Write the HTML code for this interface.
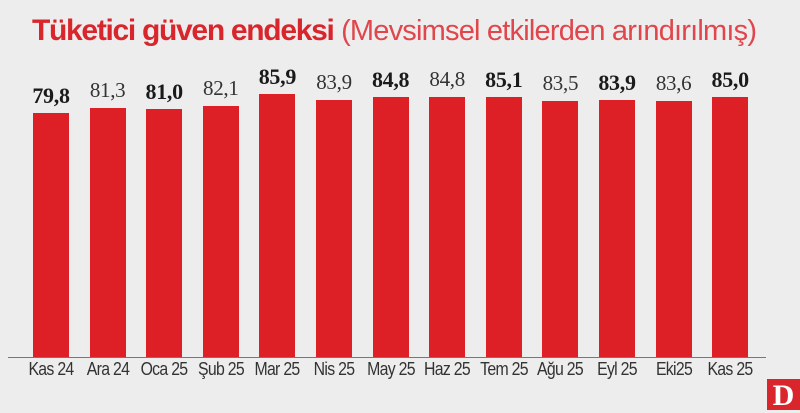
<!DOCTYPE html>
<html><head><meta charset="utf-8"><style>
body{margin:0;width:800px;height:413px;overflow:hidden;background:#ededed;font-family:"Liberation Sans",sans-serif;position:relative}
.t{position:absolute;left:32px;top:14px;font-size:30px;color:#d9262c;white-space:nowrap;letter-spacing:-0.8px}
.t b{font-weight:700;letter-spacing:-1.3px}
.t span{font-weight:300;color:#e0464b;font-size:29px}
.bar{position:absolute;width:36px;background:#dd1f26;bottom:56px}
.v{position:absolute;width:70px;text-align:center;font-family:"Liberation Serif",serif;font-size:21px;color:#333;letter-spacing:-0.3px}
.v.b{font-weight:700;color:#1a1a1a;font-size:22px}
.m{position:absolute;top:359px;width:70px;text-align:center;font-size:18px;color:#333;letter-spacing:-0.8px;transform:scaleX(0.88)}
.ax{position:absolute;left:8px;width:758px;top:357px;height:1px;background:#777}
.logo{position:absolute;left:767px;top:379px;width:33px;height:31px;background:#d9262c;color:#fff;font:900 30px "Liberation Serif",serif;text-align:center;line-height:33px}
</style></head><body>
<div class="t"><b>Tüketici güven endeksi</b> <span>(Mevsimsel etkilerden arındırılmış)</span></div>
<div id="c"></div>
<div class="ax"></div>
<div class="logo">D</div>
<script>
var d=[["Kas 24",79.8,1],["Ara 24",81.3,0],["Oca 25",81.0,1],["Şub 25",82.1,0],["Mar 25",85.9,1],["Nis 25",83.9,0],["May 25",84.8,1],["Haz 25",84.8,0],["Tem 25",85.1,1],["Ağu 25",83.5,0],["Eyl 25",83.9,1],["Eki25",83.6,0],["Kas 25",85.0,1]];
var h="";
d.forEach(function(e,i){var x=33+i*56.6;var top=113-(e[1]-79.8)*3.11;
h+='<div class="bar" style="left:'+x+'px;top:'+top+'px"></div>';
h+='<div class="v'+(e[2]?' b':'')+'" style="left:'+(x-17)+'px;top:'+(top-30)+'px">'+e[1].toFixed(1).replace('.',',')+'</div>';
h+='<div class="m" style="left:'+(x-17)+'px">'+e[0]+'</div>';});
document.getElementById('c').innerHTML=h;
</script>
</body></html>
